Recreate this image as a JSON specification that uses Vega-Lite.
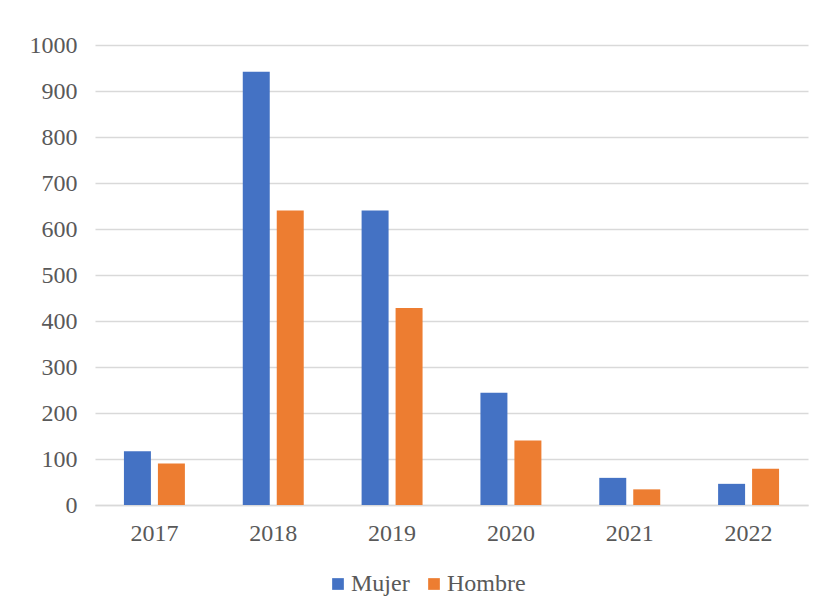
{
  "$schema": "https://vega.github.io/schema/vega-lite/v6.json",
  "autosize": "none",
  "width": 713,
  "height": 460,
  "padding": {"left": 95, "top": 45, "right": 19, "bottom": 110},
  "background": "white",
  "data": {
    "values": [
      {"year": "2017", "sexo": "Mujer", "valor": 117},
      {"year": "2017", "sexo": "Hombre", "valor": 90},
      {"year": "2018", "sexo": "Mujer", "valor": 942},
      {"year": "2018", "sexo": "Hombre", "valor": 640},
      {"year": "2019", "sexo": "Mujer", "valor": 640},
      {"year": "2019", "sexo": "Hombre", "valor": 428},
      {"year": "2020", "sexo": "Mujer", "valor": 244},
      {"year": "2020", "sexo": "Hombre", "valor": 140},
      {"year": "2021", "sexo": "Mujer", "valor": 59},
      {"year": "2021", "sexo": "Hombre", "valor": 34},
      {"year": "2022", "sexo": "Mujer", "valor": 46},
      {"year": "2022", "sexo": "Hombre", "valor": 79}
    ]
  },
  "mark": {"type": "bar"},
  "encoding": {
    "x": {
      "field": "year", "type": "nominal", "title": null,
      "scale": {"paddingInner": 0.487, "paddingOuter": 0.2435},
      "axis": {"labelAngle": 0, "ticks": false, "domainColor": "#d9d9d9", "domainWidth": 1.3, "labelPadding": 16, "grid": false}
    },
    "xOffset": {
      "field": "sexo", "type": "nominal", "sort": ["Mujer", "Hombre"],
      "scale": {"paddingInner": 0.206, "paddingOuter": 0}
    },
    "y": {
      "field": "valor", "type": "quantitative", "title": null,
      "scale": {"domain": [0, 1000], "nice": false},
      "axis": {"values": [0,100,200,300,400,500,600,700,800,900,1000], "format": "d", "ticks": false, "domain": false, "gridColor": "#d9d9d9", "gridWidth": 1.3, "labelPadding": 18}
    },
    "color": {
      "field": "sexo", "type": "nominal", "sort": ["Mujer", "Hombre"],
      "scale": {"domain": ["Mujer", "Hombre"], "range": ["#4472c4", "#ed7d31"]},
      "legend": {
        "title": null, "orient": "none", "direction": "horizontal",
        "legendX": 231, "legendY": 527,
        "symbolType": "square", "symbolSize": 137, "symbolStrokeWidth": 0,
        "labelOffset": 1, "columnPadding": 12
      }
    }
  },
  "config": {
    "font": "Liberation Serif",
    "view": {"stroke": null},
    "axis": {"labelFont": "Liberation Serif", "labelFontSize": 24, "labelColor": "#595959"},
    "legend": {"labelFont": "Liberation Serif", "labelFontSize": 24, "labelColor": "#595959"}
  }
}
